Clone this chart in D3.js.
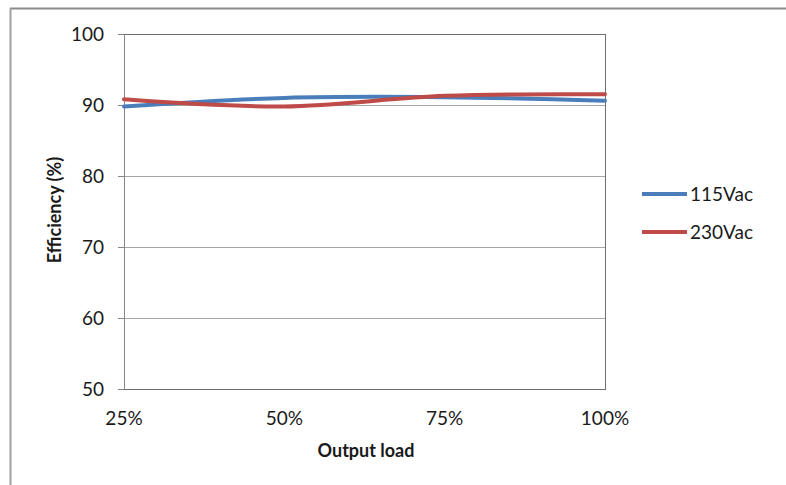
<!DOCTYPE html>
<html><head><meta charset="utf-8">
<script src="https://cdn.jsdelivr.net/npm/d3@7"></script>
<style>body{margin:0;background:#fff}svg{display:block}text{font-family:Lato,"Open Sans",sans-serif;fill:#1a1a1a}</style>
</head><body><svg id="c" width="786" height="485"></svg>
<script>
const categories = ["25%", "50%", "75%", "100%"];
const yTicks = [50, 60, 70, 80, 90, 100];
const seriesNames = ["115Vac", "230Vac"];
const v115 = [89.8, 91.0, 91.1, 90.6];
const v230 = [90.8, 89.8, 91.3, 91.5];
const colors = ["#4a7ebb", "#be4b48"];

const svg = d3.select("#c");
const L = 124, R = 605, T = 34, B = 389;
const x = d3.scalePoint().domain(categories).range([L, R]);
const y = d3.scaleLinear().domain([50, 100]).range([B, T]);

// outer frame
svg.append("line").attr("x1", 10).attr("x2", 786).attr("y1", 8.5).attr("y2", 8.5).attr("stroke", "#8a8a8a").attr("stroke-width", 2);
svg.append("line").attr("x1", 10.5).attr("x2", 10.5).attr("y1", 8).attr("y2", 485).attr("stroke", "#a0a0a0").attr("stroke-width", 2);

// gridlines
svg.append("g").selectAll("line").data(yTicks.filter(d => d > 50 && d < 100)).join("line")
  .attr("x1", L).attr("x2", R).attr("y1", d => y(d)).attr("y2", d => y(d))
  .attr("stroke", "#a6a6a6").attr("stroke-width", 1).attr("shape-rendering", "crispEdges");
// plot border
svg.append("rect").attr("x", L).attr("y", T).attr("width", R - L).attr("height", B - T)
  .attr("fill", "none").attr("stroke", "#6e6e6e").attr("stroke-width", 1).attr("shape-rendering", "crispEdges");

// y axis
const ya = svg.append("g").attr("transform", `translate(${L},0)`)
  .call(d3.axisLeft(y).tickValues(yTicks).tickSize(6).tickPadding(14));
ya.select(".domain").attr("stroke", "#868686");
ya.selectAll(".tick line").attr("stroke", "#868686");
ya.selectAll("text").style("font-size", "19px").attr("fill", "#1a1a1a");

// x labels
svg.append("g").selectAll("text").data(categories).join("text")
  .attr("x", d => x(d)).attr("y", 425).attr("text-anchor", "middle")
  .style("font-size", "19px").text(d => d);

// axis titles
svg.append("text").attr("x", 366).attr("y", 457).attr("text-anchor", "middle")
  .style("font-size", "18px").style("font-weight", "bold").text("Output load");
svg.append("text").attr("transform", "translate(61,210) rotate(-90)").attr("text-anchor", "middle")
  .style("font-size", "18px").style("font-weight", "bold").text("Efficiency (%)");

// lines
const line = d3.line().x((d, i) => x(categories[i])).y(d => y(d)).curve(d3.curveCatmullRom.alpha(0));
[v115, v230].forEach((vals, i) => {
  svg.append("path").datum(vals).attr("d", line).attr("fill", "none")
    .attr("stroke", colors[i]).attr("stroke-width", 4).attr("stroke-linecap", "round");
});

// legend
const lg = svg.append("g").selectAll("g").data(seriesNames).join("g")
  .attr("transform", (d, i) => `translate(642,${194 + i * 38})`);
lg.append("line").attr("x1", 0).attr("x2", 45).attr("stroke", (d, i) => colors[i]).attr("stroke-width", 4);
lg.append("text").attr("x", 48).attr("dy", "0.35em").style("font-size", "19px").text(d => d);
</script></body></html>
